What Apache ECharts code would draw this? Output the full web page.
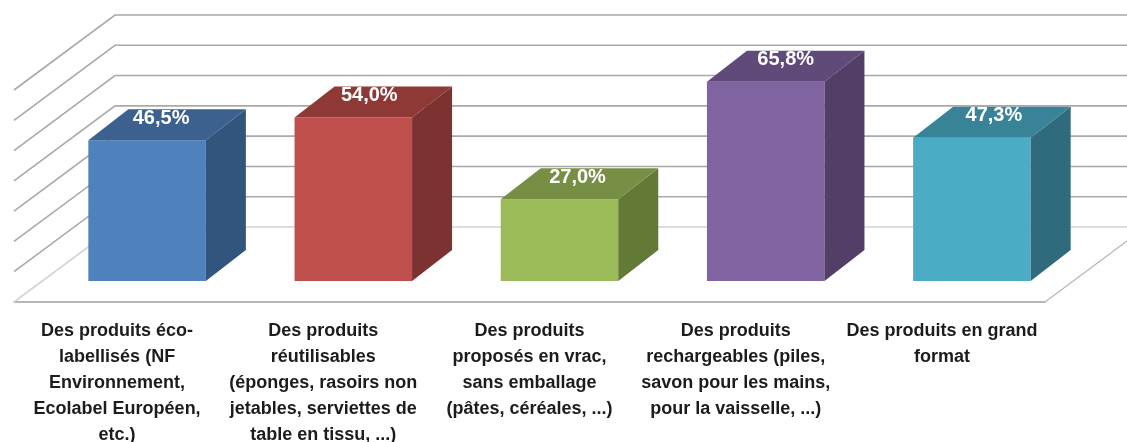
<!DOCTYPE html>
<html lang="fr">
<head>
<meta charset="utf-8">
<title>Produits</title>
<script src="https://cdn.jsdelivr.net/npm/echarts@6/dist/echarts.min.js"></script>
<style>
html,body{margin:0;padding:0;background:#fff}
#container{width:1127px;height:442px;filter:blur(0.5px)}
</style>
</head>
<body>
<div id="container"></div>
<script>
var categories = [
  "Des produits éco-\nlabellisés (NF\nEnvironnement,\nEcolabel Européen,\netc.)",
  "Des produits\nréutilisables\n(éponges, rasoirs non\njetables, serviettes de\ntable en tissu, ...)",
  "Des produits\nproposés en vrac,\nsans emballage\n(pâtes, céréales, ...)",
  "Des produits\nrechargeables (piles,\nsavon pour les mains,\npour la vaisselle, ...)",
  "Des produits en grand\nformat"
];
var values = [46.5, 54.0, 27.0, 65.8, 47.3];
var valueLabels = ["46,5%", "54,0%", "27,0%", "65,8%", "47,3%"];
var gridTicks = [0, 10, 20, 30, 40, 50, 60, 70];
var frontColors = ["#4f81bd", "#c0504d", "#9bbb59", "#8064a2", "#4bacc6"];
var sideColors = ["#31557c", "#7c3230", "#637a37", "#523e66", "#2f6b7c"];
var topColors = ["#3d618e", "#8e3936", "#778f45", "#5f4a79", "#398398"];

// oblique projection, px offsets from the front floor edge
var wallDx = 101, wallDy = -75;
var barNearDx = 30, barNearDy = -21;
var barDepthDx = 40, barDepthDy = -31;

function poly(points, fill) {
  return { type: 'polygon', shape: { points: points }, style: { fill: fill } };
}

function renderGrid(params, api) {
  var v = api.value(0);
  var p = api.coord([0, v]);
  var band = api.size([1, 0])[0];
  var x0 = p[0] - band / 2;
  var y = p[1];
  var lines = [{
    type: 'polyline',
    shape: { points: [[x0, y], [x0 + wallDx, y + wallDy], [1127, y + wallDy]] },
    style: { fill: null, stroke: v === 0 ? '#d4d4d4' : '#a9a9a9', lineWidth: 1.6 }
  }];
  if (v === 0) {
    var xEnd = x0 + band * 5;
    lines.push({
      type: 'polyline',
      shape: { points: [[xEnd, y], [xEnd + 82, y - 61]] },
      style: { fill: null, stroke: '#b5b5b5', lineWidth: 1.2 }
    });
  }
  return { type: 'group', children: lines };
}

function renderBar(params, api) {
  var i = api.value(0);
  var base = api.coord([i, 0]);
  var top = api.coord([i, api.value(1)]);
  var w = api.size([1, 0])[0] * 0.57;
  var l = base[0] - w / 2 + barNearDx, r = l + w;
  var yb = base[1] + barNearDy, yt = top[1] + barNearDy;
  return {
    type: 'group',
    children: [
      poly([[l, yb], [r, yb], [r, yt], [l, yt]], frontColors[i]),
      poly([[r, yb], [r + barDepthDx, yb + barDepthDy], [r + barDepthDx, yt + barDepthDy], [r, yt]], sideColors[i]),
      poly([[l, yt], [r, yt], [r + barDepthDx, yt + barDepthDy], [l + barDepthDx, yt + barDepthDy]], topColors[i]),
      {
        type: 'text',
        style: {
          // labels drift a little to the right across the chart in the original
          x: base[0] + barNearDx + 14 + i * 2, y: yt - 22,
          text: valueLabels[i], fill: '#fff',
          font: 'bold 20px "Liberation Sans"',
          align: 'center', verticalAlign: 'middle'
        }
      }
    ]
  };
}

var myChart = echarts.init(document.getElementById('container'), null, { renderer: 'canvas' });
myChart.setOption({
  animation: false,
  grid: { left: 14, top: 90, width: 1031, height: 212, outerBoundsMode: 'none' },
  xAxis: {
    type: 'category',
    data: categories,
    axisLine: { lineStyle: { color: '#a0a0a0', width: 1.6 } },
    axisTick: { show: false },
    axisLabel: {
      interval: 0, margin: 16,
      color: '#1c1c1c', lineHeight: 26,
      fontFamily: 'Liberation Sans', fontWeight: 'bold', fontSize: 18
    }
  },
  yAxis: { type: 'value', min: 0, max: 70, interval: 10, show: false },
  series: [
    {
      type: 'custom', renderItem: renderGrid, clip: false, silent: true, z: 1,
      encode: { y: 0 }, data: gridTicks.map(function (t) { return [t]; })
    },
    {
      type: 'custom', renderItem: renderBar, clip: false, silent: true, z: 2,
      encode: { x: 0, y: 1 }, data: values.map(function (v, i) { return [i, v]; })
    }
  ]
});
</script>
</body>
</html>
